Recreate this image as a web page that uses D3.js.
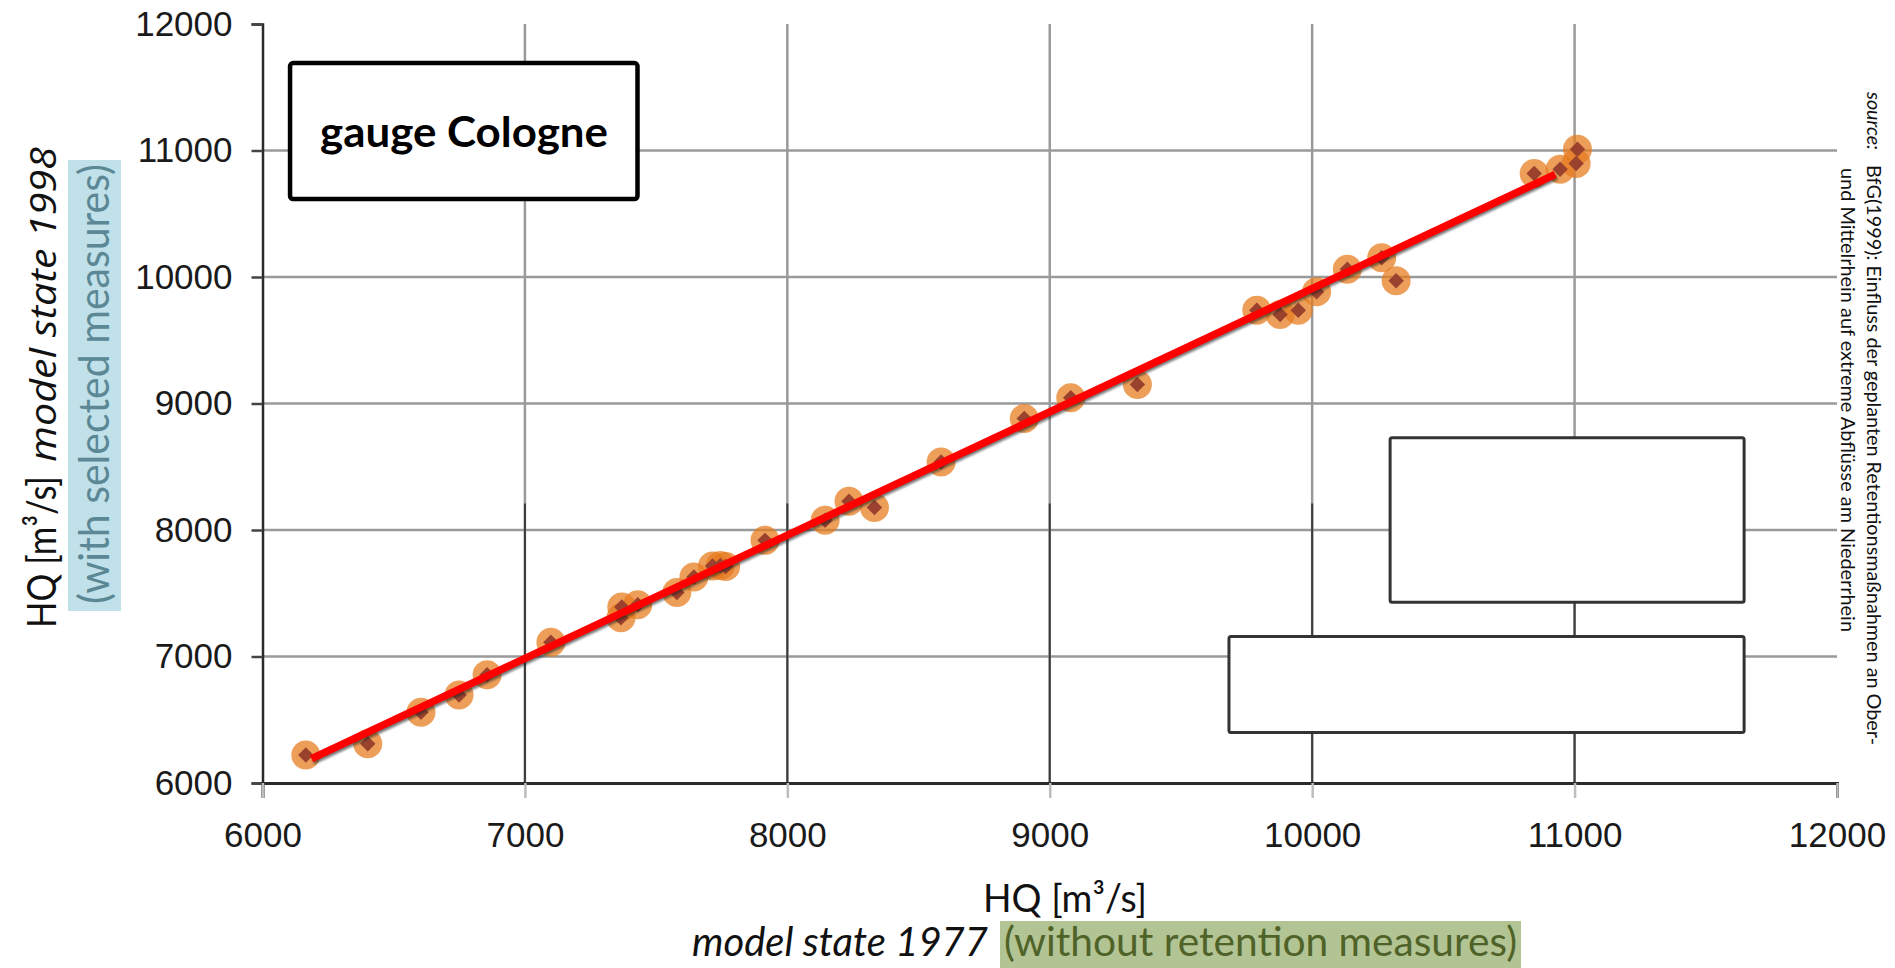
<!DOCTYPE html>
<html>
<head>
<meta charset="utf-8">
<script src="https://cdn.jsdelivr.net/npm/d3@7"></script>
<style>
  html, body { margin: 0; padding: 0; background: #fff; }
  svg { display: block; }
</style>
</head>
<body>
<svg id="chart" width="1895" height="968"></svg>
<script>
// Peak discharge HQ at gauge Cologne: model state 1977 vs. model state 1998
const hq1977 = [6165, 6401, 6604, 6749, 6856, 7099, 7366, 7369, 7430, 7579, 7644, 7715, 7745, 7765,
                7915, 8144, 8235, 8332, 8586, 8903, 9080, 9334, 9789, 9878, 9947, 10017, 10134,
                10265, 10320, 10846, 10945, 11006, 11011];
const hq1998 = [6222, 6310, 6560, 6695, 6856, 7112, 7307, 7391, 7410, 7505, 7628, 7715, 7720, 7712,
                7918, 8077, 8227, 8177, 8538, 8881, 9045, 9150, 9738, 9704, 9738, 9883, 10062,
                10152, 9970, 10819, 10851, 10898, 11009];
const fitX = [6187, 10926];
const fitY = [6192, 10811];
const xTicks = [6000, 7000, 8000, 9000, 10000, 11000, 12000];
const yTicks = [6000, 7000, 8000, 9000, 10000, 11000, 12000];
const stationName = "gauge Cologne";
const xTitle = "HQ [m³/s]";
const xSubItalic = "model state 1977";
const xSubNote = "(without retention measures)";
const yTitle = "HQ [m³/s]";
const ySubItalic = "model state 1998";
const ySubNote = "(with selected measures)";
const sourceLabel = "source:";
const sourceLine1 = "BfG(1999): Einfluss der geplanten Retentionsmaßnahmen an Ober-";
const sourceLine2 = "und Mittelrhein auf extreme Abflüsse am Niederrhein";

const svg = d3.select("#chart");
const x = d3.scaleLinear().domain([6000, 12000]).range([262.5, 1837]);
const y = d3.scaleLinear().domain([6000, 12000]).range([783, 24]);

const defs = svg.append("defs");
defs.append("filter").attr("id", "soft").attr("x", "-10%").attr("y", "-10%").attr("width", "120%").attr("height", "120%")
  .append("feGaussianBlur").attr("stdDeviation", 0.6);
defs.append("filter").attr("id", "shadowBlur").attr("x", "-5%").attr("y", "-5%").attr("width", "110%").attr("height", "110%")
  .append("feGaussianBlur").attr("stdDeviation", 1.2);

// grid
const grid = svg.append("g").attr("filter", "url(#soft)");
grid.selectAll("line.h").data(yTicks.slice(1, -1)).join("line")
  .attr("x1", x(6000)).attr("x2", x(12000))
  .attr("y1", d => y(d)).attr("y2", d => y(d))
  .attr("stroke", "#9a9a9a").attr("stroke-width", 2.5);
grid.selectAll("line.v").data(xTicks.slice(1, -1)).join("line")
  .attr("x1", d => x(d)).attr("x2", d => x(d))
  .attr("y1", y(12000)).attr("y2", y(6000))
  .attr("stroke", "#9a9a9a").attr("stroke-width", 2.5);
// darker lower part of the vertical grid
grid.selectAll("line.vd").data(xTicks.slice(1, -1)).join("line")
  .attr("x1", d => x(d)).attr("x2", d => x(d))
  .attr("y1", d => d === 11000 ? y(7430) : y(8210)).attr("y2", y(6000))
  .attr("stroke", "#3a3a3a").attr("stroke-width", 2);

// frame
svg.append("line").attr("x1", x(6000)).attr("x2", x(12000)).attr("y1", y(12000)).attr("y2", y(12000))
  .attr("stroke", "#8a8a8a").attr("stroke-width", 3).attr("filter", "url(#soft)");
svg.append("line").attr("x1", x(12000)).attr("x2", x(12000)).attr("y1", y(12000)).attr("y2", y(6000))
  .attr("stroke", "#7a7a7a").attr("stroke-width", 3).attr("filter", "url(#soft)");

// axes
const fontTicks = "'Liberation Sans', Arial, sans-serif";
const yAxis = svg.append("g").attr("transform", `translate(${x(6000)},0)`)
  .call(d3.axisLeft(y).tickValues(yTicks).tickSize(11).tickPadding(19).tickFormat(d3.format("d")));
yAxis.select(".domain").attr("stroke", "#2a2a2a").attr("stroke-width", 2.5);
yAxis.selectAll(".tick line").attr("stroke", "#444").attr("stroke-width", 2.5);
yAxis.selectAll("text").attr("font-family", fontTicks).attr("font-size", 35).attr("fill", "#1a1a1a");

const xAxis = svg.append("g").attr("transform", `translate(0,${y(6000)})`)
  .call(d3.axisBottom(x).tickValues(xTicks).tickSize(15).tickPadding(24).tickFormat(d3.format("d")));
xAxis.select(".domain").attr("stroke", "#2a2a2a").attr("stroke-width", 3);
xAxis.selectAll(".tick line").attr("stroke", "#bdbdbd").attr("stroke-width", 2.5);
xAxis.selectAll("text").attr("font-family", fontTicks).attr("font-size", 35).attr("fill", "#1a1a1a");

// data points
const pts = d3.zip(hq1977, hq1998);
const ptsG = svg.append("g").attr("filter", "url(#soft)");
ptsG.selectAll("circle").data(pts).join("circle")
  .attr("cx", d => x(d[0])).attr("cy", d => y(d[1])).attr("r", 14.5)
  .attr("fill", "#e67a1c").attr("fill-opacity", 0.72);
ptsG.selectAll("path").data(pts).join("path")
  .attr("d", d3.symbol(d3.symbolSquare, 120))
  .attr("transform", d => `translate(${x(d[0])},${y(d[1])}) rotate(45)`)
  .attr("fill", "#9a432f");

// fitted line with its shadow
svg.append("line")
  .attr("x1", x(fitX[0]) + 1.5).attr("y1", y(fitY[0]) + 2.5)
  .attr("x2", x(fitX[1]) + 1.5).attr("y2", y(fitY[1]) + 2.5)
  .attr("stroke", "#222").attr("stroke-opacity", 0.6).attr("stroke-width", 6.5)
  .attr("filter", "url(#shadowBlur)");
svg.append("line")
  .attr("x1", x(fitX[0])).attr("y1", y(fitY[0]))
  .attr("x2", x(fitX[1])).attr("y2", y(fitY[1]))
  .attr("stroke", "#ff0000").attr("stroke-width", 7.5);

// empty boxes in the lower right
const boxes = [
  { x0: 10297, x1: 11646, y0: 8729, y1: 7428 },
  { x0: 9683, x1: 11646, y0: 7159, y1: 6400 }
];
svg.append("g").selectAll("rect").data(boxes).join("rect")
  .attr("x", d => x(d.x0)).attr("y", d => y(d.y0))
  .attr("width", d => x(d.x1) - x(d.x0)).attr("height", d => y(d.y1) - y(d.y0))
  .attr("rx", 2).attr("fill", "#fff").attr("stroke", "#333").attr("stroke-width", 3);

// station label box
const hum = "Lato, 'Open Sans', sans-serif";
const wide = "'Open Sans', 'Noto Sans', sans-serif";
svg.append("rect").attr("x", x(6105)).attr("y", y(11691))
  .attr("width", x(7429) - x(6105)).attr("height", y(10616) - y(11691))
  .attr("rx", 3).attr("fill", "#fff").attr("stroke", "#000").attr("stroke-width", 4.5);
svg.append("text").attr("x", 320).attr("y", 147)
  .attr("font-family", hum).attr("font-weight", 700).attr("font-size", 42)
  .attr("textLength", 288).attr("lengthAdjust", "spacingAndGlyphs")
  .text(stationName);

// x-axis title
svg.append("text").attr("x", 983).attr("y", 912)
  .attr("font-family", hum).attr("font-size", 39).attr("fill", "#111")
  .attr("textLength", 164).attr("lengthAdjust", "spacingAndGlyphs").text(xTitle);
svg.append("text").attr("x", 692).attr("y", 956)
  .attr("font-family", hum).attr("font-style", "italic").attr("font-size", 41).attr("fill", "#111")
  .attr("textLength", 296).attr("lengthAdjust", "spacingAndGlyphs").text(xSubItalic);
svg.append("rect").attr("x", 1000).attr("y", 921).attr("width", 521).attr("height", 47).attr("fill", "#b3c494");
svg.append("text").attr("x", 1004).attr("y", 956)
  .attr("font-family", hum).attr("font-size", 41).attr("fill", "#4f6228")
  .attr("textLength", 513).attr("lengthAdjust", "spacingAndGlyphs").text(xSubNote);

// y-axis title
const yt = svg.append("g").attr("transform", "translate(56,628) rotate(-90)");
yt.append("text").attr("x", 0).attr("y", 0)
  .attr("font-family", hum).attr("font-size", 41).attr("fill", "#111")
  .attr("textLength", 152).attr("lengthAdjust", "spacingAndGlyphs").text(yTitle);
yt.append("text").attr("x", 166).attr("y", 0)
  .attr("font-family", wide).attr("font-style", "italic").attr("font-size", 36).attr("fill", "#111")
  .attr("textLength", 315).attr("lengthAdjust", "spacingAndGlyphs").text(ySubItalic);
svg.append("rect").attr("x", 68).attr("y", 160).attr("width", 53).attr("height", 451).attr("fill", "#c0e0ea");
svg.append("g").attr("transform", "translate(109,604) rotate(-90)")
  .append("text").attr("x", 0).attr("y", 0)
  .attr("font-family", hum).attr("font-size", 42).attr("fill", "#5b8894")
  .attr("textLength", 440).attr("lengthAdjust", "spacingAndGlyphs").text(ySubNote);

// source note, running top to bottom
const src = svg.append("g").attr("font-family", hum).attr("font-size", 20).attr("fill", "#111");
src.append("g").attr("transform", "translate(1867,92) rotate(90)")
  .append("text").attr("font-style", "italic")
  .attr("textLength", 58).attr("lengthAdjust", "spacingAndGlyphs").text(sourceLabel);
src.append("g").attr("transform", "translate(1867,165) rotate(90)")
  .append("text").attr("textLength", 580).attr("lengthAdjust", "spacingAndGlyphs").text(sourceLine1);
src.append("g").attr("transform", "translate(1841,168) rotate(90)")
  .append("text").attr("textLength", 464).attr("lengthAdjust", "spacingAndGlyphs").text(sourceLine2);
</script>
</body>
</html>
